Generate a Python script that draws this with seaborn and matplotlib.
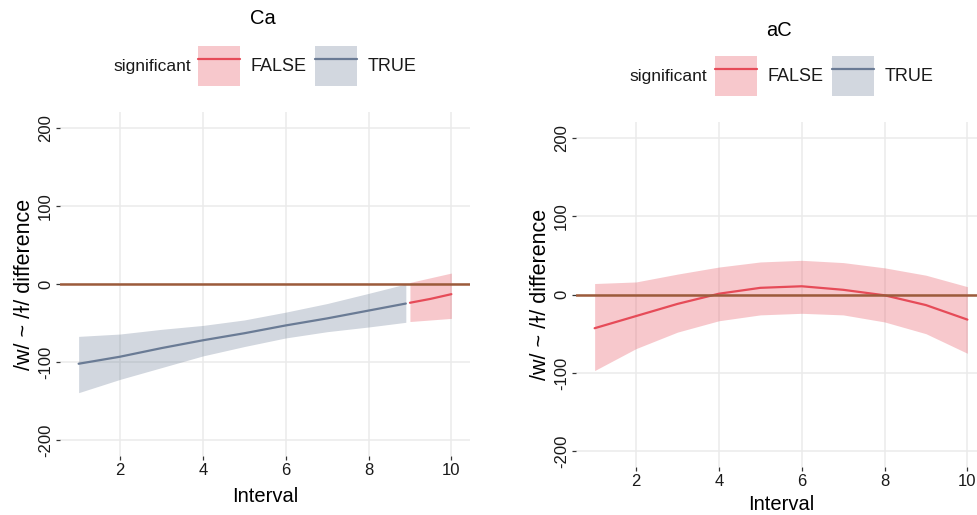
import numpy as np
import pandas as pd
import matplotlib
matplotlib.use("Agg")
import matplotlib.pyplot as plt
import seaborn as sns
from matplotlib.patches import Patch
from matplotlib.lines import Line2D

# ---------------- data ----------------
# Panel "Ca"
ca_true_x = [1, 2, 3, 4, 5, 6, 7, 8, 8.9]
ca_true_y = [-102, -93, -82, -72, -63, -53, -44, -34, -25]
ca_true_lo = [-139, -122, -107, -92, -80, -69, -61, -55, -49]
ca_true_hi = [-67, -64, -58, -53, -46, -36, -25, -12, 0]

ca_false_x = [9, 9.5, 10]
ca_false_y = [-24, -19, -13]
ca_false_lo = [-48, -46, -44]
ca_false_hi = [2, 8, 14]

# Panel "aC"
ac_false_x = [1, 2, 3, 4, 5, 6, 7, 8, 9, 10]
ac_false_y = [-43, -27.5, -12, 1, 8.5, 10.5, 6, -1, -13.5, -32]
ac_false_lo = [-97, -69, -48, -33.5, -26, -24, -26, -35, -50, -75]
ac_false_hi = [14, 16, 26, 35, 41.5, 43.6, 40.7, 34, 24.6, 10]

panel_titles = ["Ca", "aC"]
x_ticks = [2, 4, 6, 8, 10]
y_ticks = [-200, -100, 0, 100, 200]
legend_title = "significant"
levels = ["FALSE", "TRUE"]
x_label = "Interval"
y_label = "/w/ ~ /ɫ/ difference"

# ---------------- style ----------------
sns.set_theme(style="whitegrid")
plt.rcParams['font.family'] = ['Liberation Sans', 'DejaVu Sans']
plt.rcParams['axes.unicode_minus'] = False

line_col = {"FALSE": "#E64B58", "TRUE": "#6A7B95"}
zero_col = "#9C5B3B"
W, H = 977, 515

fig = plt.figure(figsize=(W / 100, H / 100), dpi=100)

def make_df(x, y, lo, hi, sig):
    return pd.DataFrame({"Interval": x, "diff": y, "lo": lo, "hi": hi,
                         "significant": sig})

ca_df = pd.concat([make_df(ca_true_x, ca_true_y, ca_true_lo, ca_true_hi, "TRUE"),
                   make_df(ca_false_x, ca_false_y, ca_false_lo, ca_false_hi, "FALSE")])
ac_df = make_df(ac_false_x, ac_false_y, ac_false_lo, ac_false_hi, "FALSE")

axes_px = [(60, 470, 112, 456), (576, 986, 122, 467)]
xlabel_pads = [6.5, 4]

def style_ax(ax, xpad):
    ax.set_facecolor("white")
    for s in ax.spines.values():
        s.set_visible(False)
    ax.grid(True, color="#EBEBEB", linewidth=1.1)
    ax.set_xlim(0.55, 10.45)
    ax.set_ylim(-220, 220)
    ax.set_xticks(x_ticks)
    ax.set_yticks(y_ticks)
    ax.tick_params(axis="both", which="major", length=3, width=0.9,
                   color="#333333", labelsize=12, labelcolor="#1a1a1a", pad=2,
                   bottom=True, left=True)
    for lab in ax.get_yticklabels():
        lab.set_rotation(90)
        lab.set_va("center")
    ax.set_xlabel(x_label, fontsize=14.5, labelpad=xpad, color="black")
    ax.set_ylabel(y_label, fontsize=15.5, labelpad=2, color="black")

for i, (df, title) in enumerate([(ca_df, panel_titles[0]), (ac_df, panel_titles[1])]):
    l, r, t, b = axes_px[i]
    ax = fig.add_axes([l / W, (H - b) / H, (r - l) / W, (b - t) / H])
    for sig in levels:
        sub = df[df["significant"] == sig]
        if len(sub):
            ax.fill_between(sub["Interval"], sub["lo"], sub["hi"],
                            color=line_col[sig], alpha=0.3, linewidth=0, zorder=2)
    sns.lineplot(data=df, x="Interval", y="diff", hue="significant",
                 palette=line_col, hue_order=levels, linewidth=1.6,
                 legend=False, ax=ax, zorder=3, sort=True, estimator=None)
    ax.axhline(0, color=zero_col, linewidth=1.8, zorder=4)
    style_ax(ax, xlabel_pads[i])

    # title & legend
    title_y = [18, 30][i]
    leg_y = [66, 76][i]
    sig_x = [191, 707][i]
    key_x = [200, 717][i]
    fig.text((l + r) / 2 / W - 0.002, 1 - title_y / H, title, ha="center", va="center",
             fontsize=14.5, color="black")
    fig.text(sig_x / W, 1 - leg_y / H, legend_title, ha="right", va="center",
             fontsize=12.5, color="#1a1a1a")
    handles = [(Patch(facecolor=line_col[s], alpha=0.3, edgecolor="none"),
                Line2D([], [], color=line_col[s], linewidth=1.6)) for s in levels]
    fig.legend(handles, levels, loc="center left",
               bbox_to_anchor=((key_x - 2) / W, 1 - leg_y / H),
               ncol=2, frameon=False, fontsize=13, handlelength=2.3,
               handleheight=2.95, handletextpad=0.6, columnspacing=0.5,
               borderpad=0, borderaxespad=0, labelcolor="#1a1a1a")

fig.savefig("out.png", dpi=100, facecolor="white")
